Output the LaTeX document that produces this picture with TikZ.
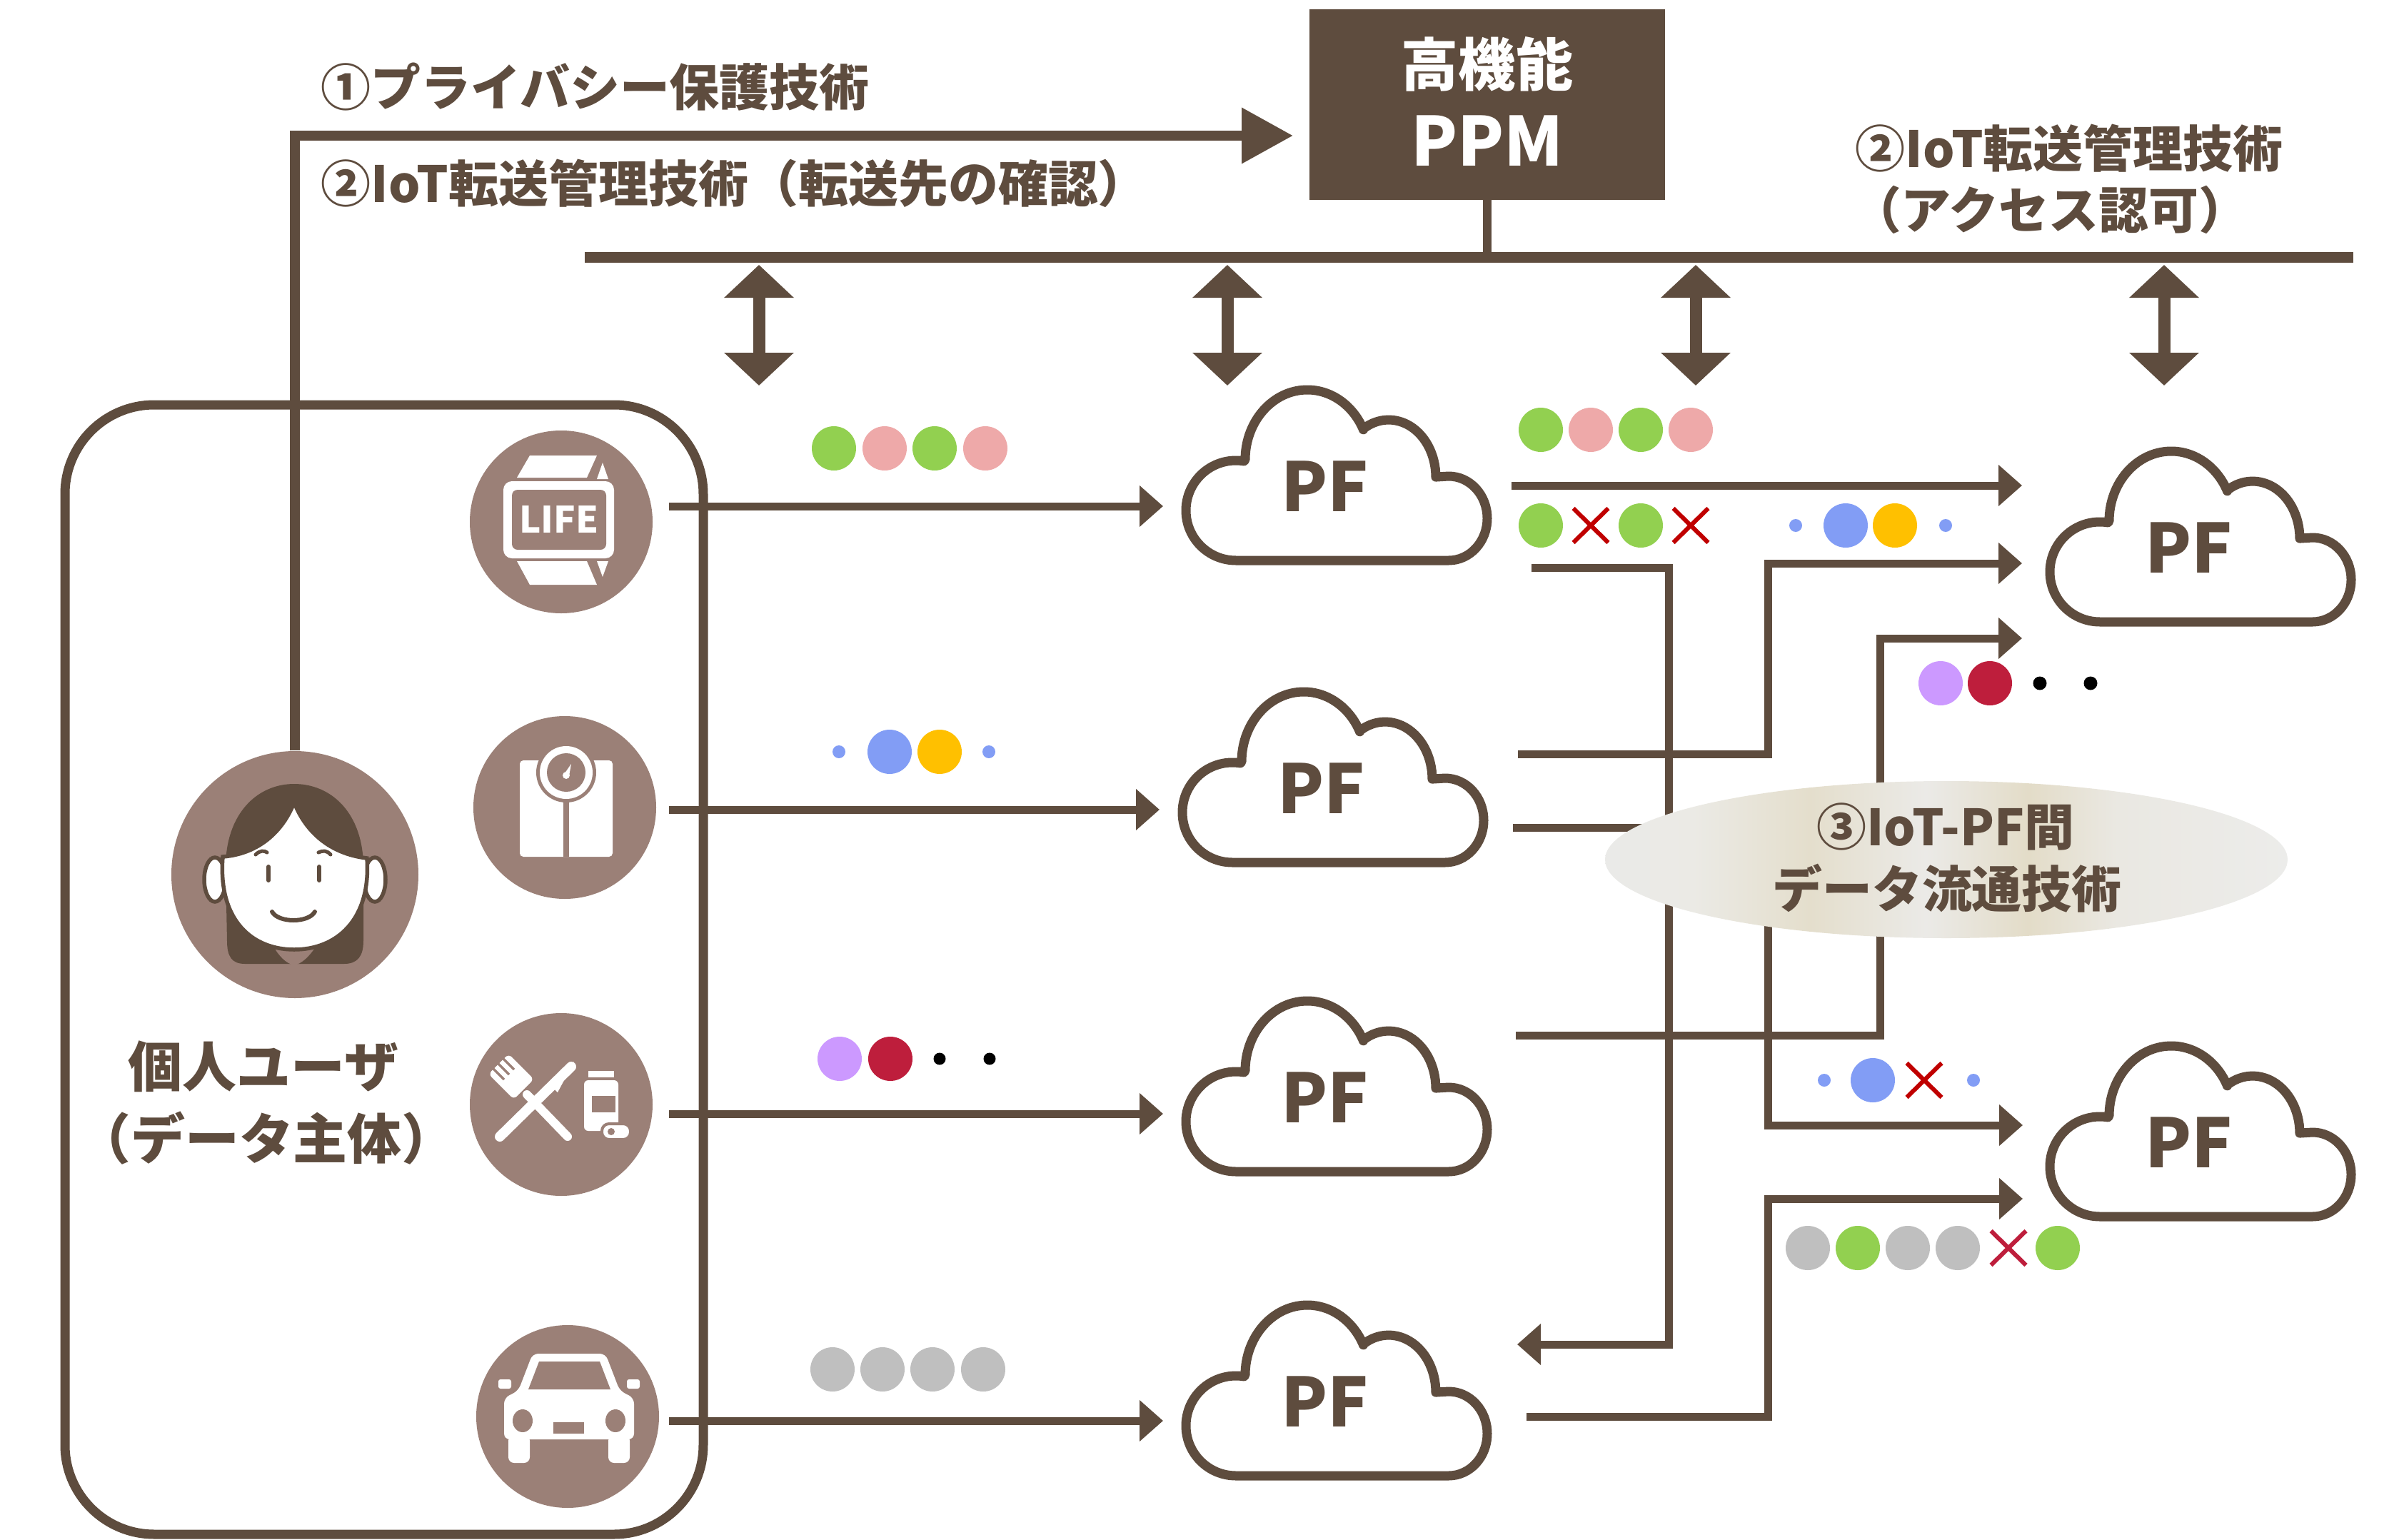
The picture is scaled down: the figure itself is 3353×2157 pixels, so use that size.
\documentclass[tikz,border=0pt]{standalone}
\usepackage{fontspec}
\newfontfamily\jp{Noto Sans CJK JP}
\usetikzlibrary{arrows.meta,shapes.geometric,shapes.misc}

\definecolor{ink}{HTML}{5E4C3E}
\definecolor{disk}{HTML}{9B8077}
\definecolor{dgreen}{HTML}{92D050}
\definecolor{dpink}{HTML}{EEA9A9}
\definecolor{dblue}{HTML}{829DF5}
\definecolor{dyellow}{HTML}{FFC000}
\definecolor{dpurple}{HTML}{CC99FF}
\definecolor{dcrimson}{HTML}{BE1E3C}
\definecolor{dgray}{HTML}{BFBFBF}
\definecolor{xred}{HTML}{C00000}
\definecolor{sa}{HTML}{EAEAE8}
\definecolor{sb}{HTML}{EBEAE5}
\definecolor{sc}{HTML}{E4DECC}
\definecolor{sd}{HTML}{EBEAE7}
\definecolor{se}{HTML}{E3DCC8}
\definecolor{sf}{HTML}{EAE8E2}
\definecolor{sg}{HTML}{ECECEA}

% the path's box is mapped onto the middle 25bp--75bp of the shading
\pgfdeclarehorizontalshading{satin}{100bp}{color(0bp)=(sa); color(25bp)=(sa); color(31.5bp)=(sb); color(40bp)=(sc); color(48.5bp)=(sd); color(56bp)=(se); color(62.5bp)=(sf); color(75bp)=(sg); color(100bp)=(sg)}

\tikzset{
  lbl/.style={font=\jp\bfseries\fontsize{19.9pt}{24pt}\selectfont, text=ink, inner sep=0pt},
  who/.style={font=\jp\bfseries\fontsize{21.6pt}{26pt}\selectfont, text=ink, inner sep=0pt},
  pftext/.style={font=\jp\bfseries\fontsize{27pt}{32pt}\selectfont, text=ink, inner sep=0pt},
  dev/.style={circle, fill=disk, minimum size=25.6mm, inner sep=0pt},
  dot/.style={circle, fill=#1, minimum size=6.2mm, inner sep=0pt},
  tiny/.style={circle, fill=#1, minimum size=1.8mm, inner sep=0pt},
  nope/.style={cross out, draw=xred, line width=0.6mm, minimum width=4.3mm, minimum height=4.2mm, inner sep=0pt},
  flow/.style={draw=ink, line width=1.1mm, -{Triangle[length=3.3mm, width=5.6mm]}},
  mainflow/.style={draw=ink, line width=1.4mm, -{Triangle[length=7.2mm, width=7.5mm]}},
  twoway/.style={draw=ink, line width=1.7mm, {Triangle[length=4.6mm, width=9.5mm]}-{Triangle[length=4.6mm, width=9.5mm]}},
  pfcloud/.pic={
    \path[draw=ink, fill=white, line width=1.3mm, line join=round]
      (80,246) arc[start angle=90, end angle=279.3, radius=70]
      -- (93,105) arc[start angle=180, end angle=334.5, x radius=87, y radius=98]
      -- (258,62) arc[start angle=237, end angle=360, x radius=66, y radius=80]
      -- (378,128) arc[start angle=270, end angle=450, x radius=54, y radius=59]
      -- cycle;
    \node[pftext] (-pf) at (205,142) {PF};
    \coordinate (-in) at (-22,170);
  }
}

\begin{document}
\begin{tikzpicture}[x=0.1mm, y=-0.1mm]
\useasboundingbox (0,0) rectangle (3353,2157);

% ---------- PPM box and bus ----------
\node[fill=ink, minimum width=49.8mm, minimum height=26.7mm, inner sep=0pt] (ppm) at (2083,146) {};
\node[font=\jp\bfseries\fontsize{22.8pt}{26pt}\selectfont, text=white, inner sep=0pt] (ppmtop) at (2083,90) {高機能};
\node[font=\jp\bfseries\fontsize{27pt}{32pt}\selectfont, text=white, inner sep=0pt] (ppmname) at (2083,197) {PPM};

\coordinate (busL) at (819,360);
\coordinate (busR) at (3296,360);
\draw[ink, line width=1.5mm] (busL) -- (busR);
\draw[ink, line width=1.2mm] (ppm.south) -- (ppm.south |- busL);

\foreach \x [count=\i] in {1063,1719,2375,3031}{
  \coordinate (up\i) at (\x,371);
  \coordinate (dn\i) at (\x,540);
  \draw[twoway] (up\i) -- (dn\i);
}

% ---------- labels ----------
\node[lbl, anchor=west] (tech1) at (449,122) {①プライバシー保護技術};
\node[lbl, anchor=west] (tech2a) at (449,257) {②IoT転送管理技術（転送先の確認）};
\node[lbl] (tech2b) at (2898,208) {②IoT転送管理技術};
\node[lbl] (tech2c) at (2871,294) {（アクセス認可）};

% ---------- user box ----------
\node[draw=ink, line width=1.3mm, rounded corners=12.5mm, minimum width=89.4mm, minimum height=158.2mm, inner sep=0pt] (userbox) at (538,1358) {};

% person
\node[dev, minimum size=34.6mm] (person) at (413,1225) {};
\fill[ink] (316,1215) .. controls (316,1140) and (360,1098) .. (412,1098)
  .. controls (465,1098) and (509,1140) .. (509,1215) -- (509,1318)
  .. controls (509,1340) and (500,1350) .. (482,1350) -- (343,1350)
  .. controls (325,1350) and (318,1340) .. (318,1318) -- cycle;
\fill[disk] (380,1320) .. controls (390,1340) and (402,1350) .. (412,1352)
  .. controls (422,1350) and (434,1340) .. (446,1320) -- cycle;
\draw[ink, line width=0.55mm, fill=white] (301,1232) ellipse[x radius=15, y radius=31];
\draw[ink, line width=0.55mm, fill=white] (525,1232) ellipse[x radius=15, y radius=31];
\draw[ink, line width=0.55mm, fill=white] (312,1200) .. controls (362,1196) and (396,1165) .. (412,1124)
  .. controls (428,1165) and (462,1196) .. (514,1202)
  .. controls (520,1290) and (470,1330) .. (412,1330)
  .. controls (354,1330) and (305,1290) .. (312,1200) -- cycle;
\draw[ink, line width=0.6mm, line cap=round] (376,1214) -- (376,1233) (447,1214) -- (447,1233);
\draw[ink, line width=0.5mm, line cap=round] (358,1197) .. controls (364,1191) and (370,1191) .. (374,1194)
  (446,1194) .. controls (452,1191) and (458,1191) .. (463,1197);
\draw[ink, line width=0.6mm, line cap=round] (381,1277) .. controls (390,1293) and (432,1293) .. (441,1277);

\node[who] (username) at (369,1494) {個人ユーザ};
\node[who] (userrole) at (373,1594) {（データ主体）};

% privacy / transfer arrow to the PPM
\coordinate (ppmin) at (1811,190);
\draw[mainflow] (person.north) |- (ppmin);

% ---------- devices ----------
\node[dev] (dev1) at (786,731) {};
\node[dev] (dev2) at (791,1131) {};
\node[dev] (dev3) at (786,1547) {};
\node[dev] (dev4) at (795,1984) {};

% watch
\fill[white] (742,638) -- (836,638) -- (822,669) -- (724,669) -- cycle;
\fill[white] (844,648) -- (852,671) -- (836,671) -- cycle;
\fill[white] (724,786) -- (822,786) -- (836,819) -- (742,819) -- cycle;
\fill[white] (836,786) -- (852,786) -- (844,808) -- cycle;
\fill[white, rounded corners=1.2mm] (705,674) rectangle (860,782);
\fill[disk, rounded corners=0.8mm] (717,686) rectangle (849,770);
\node[font=\jp\bfseries\fontsize{14.5pt}{16pt}\selectfont, text=white, inner sep=0pt] (lifetag) at (783,728) {LIFE};

% scale
\fill[white, rounded corners=0.5mm] (728,1065) rectangle (858,1200);
\fill[disk] (789,1117) rectangle (797,1200);
\fill[disk] (793,1082) circle[radius=42];
\fill[white] (793,1082) circle[radius=37];
\fill[disk] (793,1082) circle[radius=27];
\fill[white] (793,1086) circle[radius=5];
\fill[white] (791,1083) -- (800,1070) -- (797,1087) -- cycle;

% meal and medicine
\draw[white, line width=1.4mm, line cap=round] (800,1494) -- (700,1592);
\fill[white] (804,1487) -- (781,1530) -- (770,1519) -- cycle;
\draw[white, line width=1.2mm, line cap=round] (738,1533) -- (795,1592);
\fill[white, rounded corners=0.6mm] (747.8,1511.6) -- (719.6,1539.8) -- (684.2,1504.4) -- (712.4,1476.2) -- cycle;
\draw[disk, line width=0.35mm] (688,1494) -- (706,1512) (695,1487) -- (713,1505) (702,1480) -- (720,1498);
\fill[white] (824,1500) rectangle (860,1509);
\fill[white, rounded corners=0.6mm] (818,1513) rectangle (866,1584);
\fill[disk] (829,1535) rectangle (862,1558);
\draw[disk, line width=0.4mm, fill=white, rounded corners=1mm] (843,1574) rectangle (883,1596);
\fill[disk] (856,1585) circle[radius=5];

% car
\fill[white, rounded corners=0.8mm] (746,1896) -- (848,1896) -- (868,1948) -- (888,1958) -- (888,2016)
  -- (706,2016) -- (706,1958) -- (726,1948) -- cycle;
\fill[disk] (755,1907) -- (840,1907) -- (855,1946) -- (740,1946) -- cycle;
\fill[white, rounded corners=0.3mm] (698,1932) rectangle (716,1945);
\fill[white, rounded corners=0.3mm] (878,1932) rectangle (896,1945);
\fill[disk] (732,1990) ellipse[x radius=14, y radius=16];
\fill[disk] (862,1990) ellipse[x radius=14, y radius=16];
\fill[disk] (775,1992) rectangle (818,2008);
\fill[white, rounded corners=0.8mm] (712,2010) rectangle (742,2049);
\fill[white, rounded corners=0.8mm] (852,2010) rectangle (882,2049);

% ---------- platforms ----------
\pic (c1) at (1651,539) {pfcloud};
\pic (c2) at (1646,962) {pfcloud};
\pic (c3) at (1651,1395) {pfcloud};
\pic (c4) at (1651,1821) {pfcloud};
\pic (r1) at (2861,625) {pfcloud};
\pic (r2) at (2861,1458) {pfcloud};

% device to platform
\coordinate (s1) at (937,709);
\coordinate (s2) at (937,1134);
\coordinate (s3) at (937,1560);
\coordinate (s4) at (937,1990);
\foreach \i in {1,2,3,4}{
  \draw[flow] (s\i) -- (s\i -| c\i-in);
}

% data on the device links
\foreach \c/\x [count=\i] in {dgreen/1168, dpink/1239, dgreen/1309, dpink/1380}
  \node[dot=\c] (la\i) at (\x,628) {};
\node[tiny=dblue] (lb1) at (1175,1053) {};
\node[dot=dblue] (lb2) at (1246,1053) {};
\node[dot=dyellow] (lb3) at (1316,1053) {};
\node[tiny=dblue] (lb4) at (1385,1053) {};
\node[dot=dpurple] (lc1) at (1176,1483) {};
\node[dot=dcrimson] (lc2) at (1247,1483) {};
\node[tiny=black, minimum size=1.7mm] (lc3) at (1316,1483) {};
\node[tiny=black, minimum size=1.7mm] (lc4) at (1386,1483) {};
\foreach \x [count=\i] in {1166,1236,1306,1377}
  \node[dot=dgray] (ld\i) at (\x,1918) {};

% ---------- platform to platform ----------
\coordinate (o1) at (2117,680);  \coordinate (t1) at (2832,680);
\draw[flow] (o1) -- (t1);

\coordinate (o2) at (2145,795);  \coordinate (k2) at (2337,795);
\coordinate (m2) at (2337,1883); \coordinate (t2) at (2125,1883);
\draw[flow] (o2) -- (k2) -- (m2) -- (t2);

\coordinate (o3) at (2126,1056); \coordinate (k3) at (2476,1056);
\coordinate (m3) at (2476,789);  \coordinate (t3) at (2832,789);
\draw[flow] (o3) -- (k3) -- (m3) -- (t3);

\coordinate (o4) at (2123,1450); \coordinate (k4) at (2633,1450);
\coordinate (m4) at (2633,894);  \coordinate (t4) at (2832,894);
\draw[flow] (o4) -- (k4) -- (m4) -- (t4);

\coordinate (o5) at (2119,1159); \coordinate (k5) at (2476,1159);
\coordinate (m5) at (2476,1576); \coordinate (t5) at (2833,1576);
\draw[flow] (o5) -- (k5) -- (m5) -- (t5);

\coordinate (o6) at (2138,1984); \coordinate (k6) at (2476,1984);
\coordinate (m6) at (2476,1679); \coordinate (t6) at (2833,1679);
\draw[flow] (o6) -- (k6) -- (m6) -- (t6);

% data on the platform links
\foreach \c/\x [count=\i] in {dgreen/2158, dpink/2228, dgreen/2298, dpink/2368}
  \node[dot=\c] (ra\i) at (\x,602) {};
\node[dot=dgreen] (rb1) at (2158,736) {};
\node[nope] (rb2) at (2228,736) {};
\node[dot=dgreen] (rb3) at (2298,736) {};
\node[nope] (rb4) at (2368,736) {};
\node[tiny=dblue] (rc1) at (2515,736) {};
\node[dot=dblue] (rc2) at (2585,736) {};
\node[dot=dyellow] (rc3) at (2654,736) {};
\node[tiny=dblue] (rc4) at (2725,736) {};
\node[dot=dpurple] (rd1) at (2718,957) {};
\node[dot=dcrimson] (rd2) at (2787,957) {};
\node[tiny=black, minimum size=1.9mm] (rd3) at (2857,957) {};
\node[tiny=black, minimum size=1.9mm] (rd4) at (2928,957) {};
\node[tiny=dblue] (re1) at (2555,1513) {};
\node[dot=dblue] (re2) at (2623,1513) {};
\node[nope] (re3) at (2695,1513) {};
\node[tiny=dblue] (re4) at (2764,1513) {};
\node[dot=dgray] (rf1) at (2532,1748) {};
\node[dot=dgreen] (rf2) at (2602,1748) {};
\node[dot=dgray] (rf3) at (2672,1748) {};
\node[dot=dgray] (rf4) at (2742,1748) {};
\node[nope, draw=dcrimson] (rf5) at (2813,1748) {};
\node[dot=dgreen] (rf6) at (2882,1748) {};

% ---------- data circulation technology ----------
\node[ellipse, shading=satin, minimum width=95.6mm, minimum height=22mm, inner sep=0pt] (tech3) at (2726,1204) {};
\node[lbl] (tech3a) at (2725,1158) {③IoT-PF間};
\node[lbl] (tech3b) at (2727,1244) {データ流通技術};

\end{tikzpicture}
\end{document}
